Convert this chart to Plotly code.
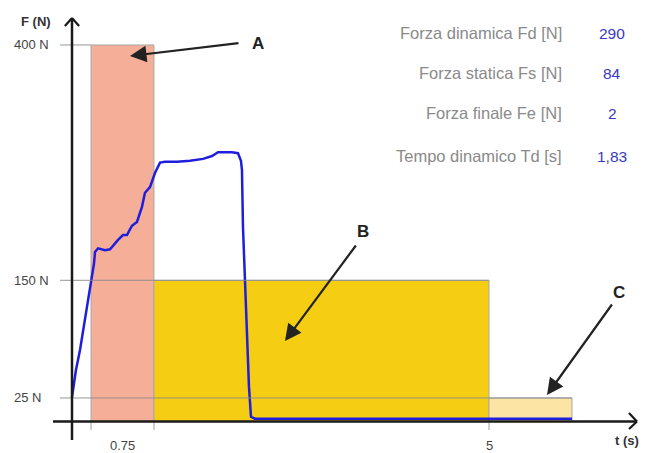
import plotly.graph_objects as go

# ---- data ----
t_curve = [0.0, 0.048, 0.096, 0.236, 0.264, 0.276, 0.312, 0.396, 0.456, 0.552, 0.612, 0.659,
           0.719, 0.779, 0.839, 0.875, 0.935, 0.995, 1.055, 1.115, 1.259, 1.415, 1.571, 1.679,
           1.751, 1.918, 1.990, 2.026, 2.038, 2.050, 2.074, 2.098, 2.122, 2.146, 2.194, 5.995]
f_curve = [26, 55, 76, 150, 168, 180, 184, 182, 183, 193, 198, 198,
           208, 212, 228, 243, 249, 264, 275, 276, 276, 277, 279, 282,
           286, 286, 285, 277, 267, 207, 150, 79, 37, 5, 3, 3]

# phases: (t_start, t_end, force_level)
phase_A = (0.228, 0.983, 400)
phase_B = (0.983, 5.0, 150)
phase_C = (5.0, 5.995, 25)

y_ticks = [400, 150, 25]
y_tick_labels = ["400 N", "150 N", "25 N"]
x_tick_pos = [0.6, 5.0]
x_tick_labels = ["0.75", "5"]

table_labels = ["Forza dinamica Fd [N]", "Forza statica Fs [N]", "Forza finale Fe [N]", "Tempo dinamico Td [s]"]
table_values = ["290", "84", "2", "1,83"]

# ---- pixel helpers (layout, screen pixels) ----
SW, SH = 654, 453
OFF = 8                    # page body margin
W, H = SW - OFF, SH - OFF
PX0, PXS = 72, 83.4        # screen pixel of t=0, px per second
PY0, PYS = 421.5, 0.9413   # screen pixel of F=0, px per N
def tx(px): return (px - PX0) / PXS
def fy(py): return (PY0 - py) / PYS

fig = go.Figure()
shapes = []
GRAY = "rgba(140,140,140,0.9)"

for (a, b, lv), col in [(phase_A, "#F5AE98"), (phase_B, "#F5CE14"), (phase_C, "#FBE4A4")]:
    shapes.append(dict(type="rect", x0=a, x1=b, y0=0, y1=lv, fillcolor=col,
                       line=dict(color="#A8A8A8", width=1), layer="below"))
for xx in (phase_A[0], phase_A[1], phase_B[1]):
    shapes.append(dict(type="line", x0=xx, x1=xx, y0=-9, y1=0,
                       line=dict(color="#A0A0A0", width=1), layer="below"))

for lv, xe in [(400, phase_A[0]), (150, phase_B[1]), (25, phase_C[1])]:
    shapes.append(dict(type="line", x0=tx(60), x1=xe, y0=lv, y1=lv,
                       line=dict(color=GRAY, width=1)))

AX = "#1a1a1a"
shapes += [
    dict(type="line", x0=0, x1=0, y0=fy(440), y1=fy(19), line=dict(color=AX, width=2.5)),
    dict(type="line", x0=-0.085, x1=0, y0=fy(26), y1=fy(18), line=dict(color=AX, width=2.2)),
    dict(type="line", x0=0.085, x1=0, y0=fy(26), y1=fy(18), line=dict(color=AX, width=2.2)),
    dict(type="line", x0=tx(53), x1=tx(637), y0=0, y1=0, line=dict(color=AX, width=2.5)),
    dict(type="line", x0=tx(629), x1=tx(637), y0=fy(413), y1=0, line=dict(color=AX, width=2.2)),
    dict(type="line", x0=tx(629), x1=tx(637), y0=fy(429), y1=0, line=dict(color=AX, width=2.2)),
]

fig.add_trace(go.Scatter(x=t_curve, y=f_curve, mode="lines",
                         line=dict(color="#1E1EDC", width=2.5), hoverinfo="skip"))

ann = []
TF = "Arial, Liberation Sans, sans-serif"
for v, lab in zip(y_ticks, y_tick_labels):
    ann.append(dict(x=tx(12), y=v, text=lab, showarrow=False, xanchor="left", yanchor="middle",
                    font=dict(family=TF, size=13, color="#444")))
for p, lab in zip(x_tick_pos, x_tick_labels):
    ann.append(dict(x=p, y=fy(445), text=lab, showarrow=False, xanchor="center", yanchor="middle",
                    font=dict(family=TF, size=13, color="#444")))
ann.append(dict(x=tx(36), y=fy(21), text="<b>F (N)</b>", showarrow=False,
                font=dict(family=TF, size=13, color="#333")))
ann.append(dict(x=tx(627), y=fy(440), text="<b>t (s)</b>", showarrow=False,
                font=dict(family=TF, size=13, color="#333")))

rows_py = [33, 73, 113, 156]
for lab, val, py in zip(table_labels, table_values, rows_py):
    ann.append(dict(x=tx(564), y=fy(py), text=lab, showarrow=False, xanchor="right", yanchor="middle",
                    font=dict(family=TF, size=16.5, color="#8a8a8a")))
    ann.append(dict(x=tx(612), y=fy(py), text=val, showarrow=False, xanchor="center", yanchor="middle",
                    font=dict(family=TF, size=15.5, color="#3a3ac0")))

for letter, tail, tip, lab in [("A", (240, 43), (130, 56), (258, 43)),
                               ("B", (357, 244), (285, 341), (363, 231)),
                               ("C", (613, 303), (547, 395), (619, 292))]:
    ann.append(dict(x=tx(tip[0]), y=fy(tip[1]), ax=tx(tail[0]), ay=fy(tail[1]),
                    xref="x", yref="y", axref="x", ayref="y", text="", showarrow=True,
                    arrowhead=2, arrowsize=1.5, arrowwidth=2.2, arrowcolor="#222"))
    ann.append(dict(x=tx(lab[0]), y=fy(lab[1]), text="<b>%s</b>" % letter, showarrow=False,
                    font=dict(family=TF, size=17, color="#222")))

fig.update_layout(
    width=W, height=H, margin=dict(l=0, r=0, t=0, b=0),
    paper_bgcolor="white", plot_bgcolor="white", showlegend=False,
    xaxis=dict(range=[tx(OFF), tx(SW)], visible=False, fixedrange=True),
    yaxis=dict(range=[fy(SH), fy(OFF)], visible=False, fixedrange=True),
    shapes=shapes, annotations=ann,
)
fig.write_html("out.html")
